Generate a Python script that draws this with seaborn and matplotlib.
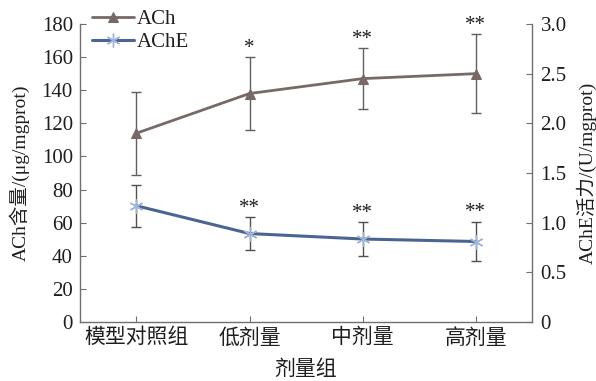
import matplotlib
matplotlib.use("Agg")
import matplotlib.pyplot as plt
import seaborn as sns
import pandas as pd

groups = ["模型对照组", "低剂量", "中剂量", "高剂量"]
ach_mean = [114, 138, 147, 150]
ach_sd = [25, 22, 18.5, 24]
ache_mean = [1.17, 0.89, 0.835, 0.81]
ache_sd = [0.21, 0.17, 0.17, 0.20]
ach_sig = ["", "*", "**", "**"]
ache_sig = ["", "**", "**", "**"]

sns.set_style("white")
plt.rcParams['font.family'] = ['Liberation Serif', 'Noto Sans CJK SC']
plt.rcParams['axes.unicode_minus'] = False

FS = 15
LFS = 14
ach_color = "#776a66"
ache_color = "#4b6592"
err_color = "#505050"
txt_color = "#1e1e1e"

df = pd.DataFrame({"group": groups, "x": range(len(groups)),
                   "ach": ach_mean, "ache": ache_mean})

fig = plt.figure(figsize=(5.96, 3.81), dpi=100)
ax = fig.add_axes([0.134, 0.155, 0.759, 0.782])
ax2 = ax.twinx()

ax.errorbar(df["x"], df["ach"], yerr=ach_sd, fmt="none", ecolor="#606060",
            elinewidth=1, capsize=3.5, capthick=1, zorder=2)
sns.lineplot(data=df, x="x", y="ach", ax=ax, color=ach_color, marker="^",
             markersize=7, markeredgecolor=ach_color, linewidth=2, label="ACh",
             legend=False, zorder=3)

ax2.errorbar(df["x"], df["ache"], yerr=ache_sd, fmt="none", ecolor=err_color,
             elinewidth=1, capsize=3.5, capthick=1, zorder=2)
sns.lineplot(data=df, x="x", y="ache", ax=ax2, color=ache_color, marker=(6, 2, 0),
             markersize=10, markeredgecolor="#9fb4d8", markeredgewidth=1,
             linewidth=2.2, label="AChE", legend=False, zorder=3)

for i in range(len(groups)):
    if ach_sig[i]:
        ax.annotate(ach_sig[i], (i, ach_mean[i] + ach_sd[i]), xytext=(0, 3),
                    textcoords="offset points", ha="center", va="baseline",
                    fontsize=FS, color=txt_color)
    if ache_sig[i]:
        ax2.annotate(ache_sig[i], (i, ache_mean[i] + ache_sd[i]), xytext=(0, 3),
                     textcoords="offset points", ha="center", va="baseline",
                     fontsize=FS, color=txt_color)

ax.set_xlim(-0.5, 3.5)
ax.set_ylim(0, 180)
ax.set_yticks(range(0, 181, 20))
ax2.set_ylim(0, 3.0)
ax2.set_yticks([0, 0.5, 1.0, 1.5, 2.0, 2.5, 3.0])
ax2.set_yticklabels(["0", "0.5", "1.0", "1.5", "2.0", "2.5", "3.0"])
ax.set_xticks(range(len(groups)))
ax.set_xticklabels(groups)

for a in (ax, ax2):
    a.spines["top"].set_visible(False)
    for s in ("left", "right", "bottom"):
        a.spines[s].set_color("#707070")
        a.spines[s].set_linewidth(1)
ax.spines["right"].set_visible(False)
ax2.spines["left"].set_visible(False)
ax2.spines["bottom"].set_visible(False)

ax.tick_params(axis="both", direction="in", length=4, color="#707070",
               labelsize=FS, labelcolor=txt_color, left=True, bottom=True)
ax.tick_params(axis="x", pad=5)
ax.tick_params(axis="y", pad=5)
ax2.tick_params(axis="y", direction="in", length=4, color="#707070",
                labelsize=FS, labelcolor=txt_color, right=True, pad=6)

ax.set_xlabel("剂量组", fontsize=FS, color=txt_color)
ax.set_ylabel("ACh含量/(μg/mgprot)", fontsize=LFS, color=txt_color)
ax2.set_ylabel("AChE活力/(U/mgprot)", fontsize=LFS, color=txt_color)
ax.xaxis.set_label_coords(0.5, -0.128)
ax.yaxis.set_label_coords(-0.111, 0.5)
ax2.yaxis.set_label_coords(1.097, 0.5)

h1, l1 = ax.get_legend_handles_labels()
h2, l2 = ax2.get_legend_handles_labels()
leg = ax.legend(h1 + h2, l1 + l2, loc="upper left", bbox_to_anchor=(0.0, 1.09),
                frameon=False, fontsize=FS, handlelength=2.0, handletextpad=0.15,
                labelspacing=0.15, borderaxespad=0.2)
for t in leg.get_texts():
    t.set_color(txt_color)

fig.savefig("out.png", dpi=100)
